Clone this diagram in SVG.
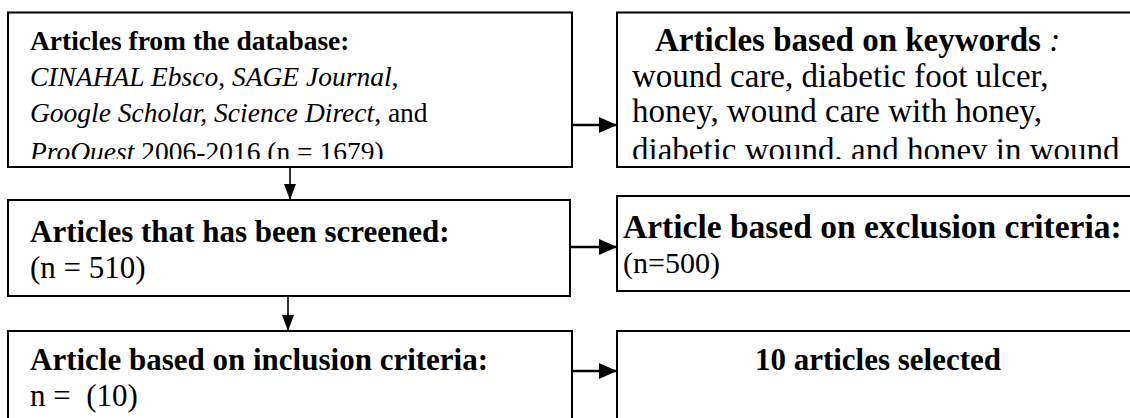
<svg xmlns="http://www.w3.org/2000/svg" width="1130" height="418" viewBox="0 0 1130 418">
<style>
.box{fill:#fff;stroke:#000;stroke-width:2}
.t{font-family:"Liberation Serif","Times New Roman",serif;fill:#000}
.b{font-weight:bold}
.i{font-style:italic}
.s1{font-size:27.5px}
.s2{font-size:33px}
.s3{font-size:31px}
.ch{stroke:#000;stroke-width:2.5;fill:none}
.cv{stroke:#000;stroke-width:1.6;fill:none}
</style>
<defs>
<marker id="ah" markerWidth="18" markerHeight="16" refX="17" refY="8" orient="auto" markerUnits="userSpaceOnUse" viewBox="0 0 18 16">
<path d="M0,0 L18,8 L0,16 Z" fill="#000"/>
</marker>
<marker id="av" markerWidth="16" markerHeight="12" refX="15" refY="6" orient="auto" markerUnits="userSpaceOnUse" viewBox="0 0 16 12">
<path d="M0,0 L16,6 L0,12 Z" fill="#000"/>
</marker>
<clipPath id="c1"><rect x="8" y="12" width="564" height="147"/></clipPath>
<clipPath id="c2"><rect x="617" y="12" width="520" height="147"/></clipPath>
</defs>
<rect width="1130" height="418" fill="#fff"/>
<g id="connectors">
<line class="ch" x1="572" y1="125" x2="616" y2="125" marker-end="url(#ah)"/>
<line class="cv" x1="290" y1="167" x2="290" y2="199" marker-end="url(#av)"/>
<line class="ch" x1="570" y1="247" x2="616" y2="247" marker-end="url(#ah)"/>
<line class="cv" x1="288" y1="296" x2="288" y2="330" marker-end="url(#av)"/>
<line class="ch" x1="572" y1="371" x2="616" y2="371" marker-end="url(#ah)"/>
</g>
<g id="n1">
<rect class="box" x="8" y="12.5" width="564" height="154.5"/>
<g clip-path="url(#c1)">
<text class="t s1 b" x="30" y="50">Articles from the database:</text>
<text class="t s1" x="30" y="86"><tspan class="i"> CINAHAL Ebsco</tspan>, <tspan class="i">SAGE Journal</tspan>,</text>
<text class="t s1" x="30" y="122"><tspan class="i">Google Scholar, Science Direct</tspan>, and</text>
<text class="t s1" x="30" y="161"><tspan class="i">ProQuest</tspan> 2006-2016 (n = 1679)</text>
</g>
</g>
<g id="n2">
<rect class="box" x="617" y="12.5" width="520" height="154.5"/>
<g clip-path="url(#c2)">
<text class="t s2" x="655" y="51"><tspan class="b">Articles based on keywords</tspan><tspan class="i"> :</tspan></text>
<text class="t s2" x="632" y="87">wound care, diabetic foot ulcer,</text>
<text class="t s2" x="632" y="122">honey, wound care with honey,</text>
<text class="t s2" x="632" y="161">diabetic wound, and honey in wound</text>
</g>
</g>
<g id="n3">
<rect class="box" x="8" y="200" width="562" height="96"/>
<text class="t s3 b" x="30" y="242">Articles that has been screened:</text>
<text class="t s3" x="30" y="278">(n = 510)</text>
</g>
<g id="n4">
<rect class="box" x="617" y="196" width="520" height="95"/>
<text class="t b" style="font-size:33.5px" x="623" y="238">Article based on exclusion criteria:</text>
<text class="t" style="font-size:30px" x="623" y="273">(n=500)</text>
</g>
<g id="n5">
<rect class="box" x="8" y="331" width="564" height="100"/>
<text class="t s3 b" x="30" y="370">Article based on inclusion criteria:</text>
<text class="t s3" x="30" y="406" style="white-space:pre">n =  (10)</text>
</g>
<g id="n6">
<rect class="box" x="617" y="331" width="520" height="100"/>
<text class="t s3 b" x="878" y="370" text-anchor="middle">10 articles selected</text>
</g>
</svg>
